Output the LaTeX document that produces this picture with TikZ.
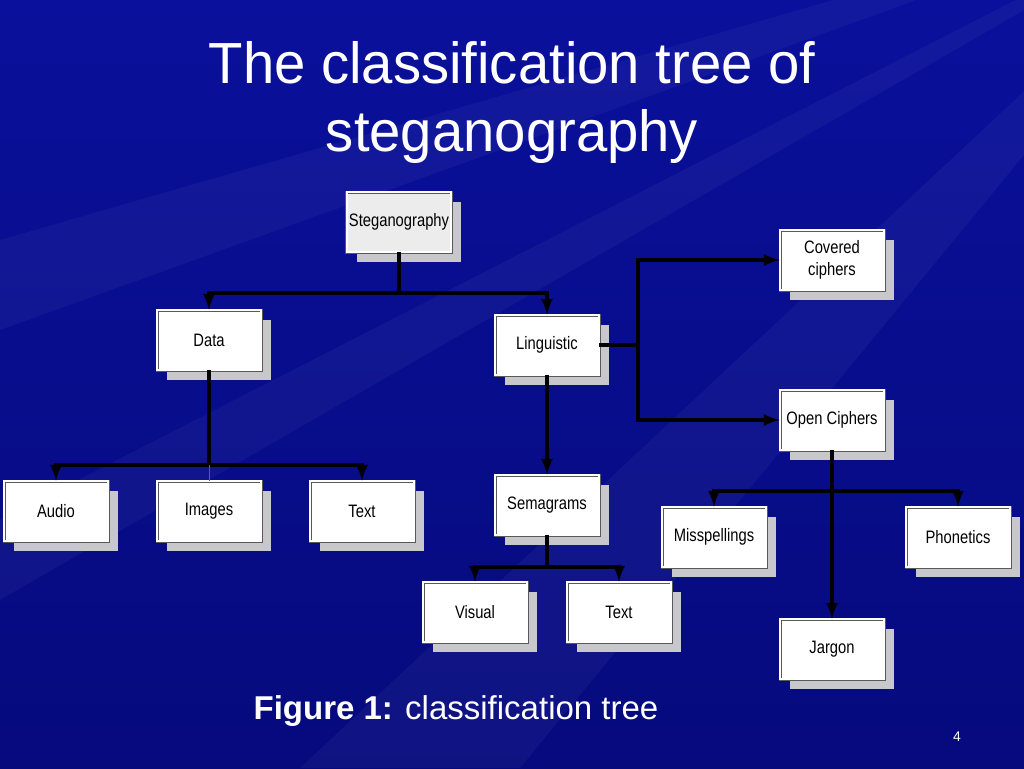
\documentclass[tikz,border=0pt]{standalone}
\usepackage{xcolor}
\usepackage{fontspec}
\setmainfont{Liberation Sans}
\newfontfamily\boxfont[FakeStretch=0.82]{Liberation Sans}
\newfontfamily\titlefont[FakeStretch=0.97]{Liberation Sans}
\usetikzlibrary{shapes,arrows,shadows}
\definecolor{slideblue}{RGB}{10,16,155}
\definecolor{slidedark}{RGB}{6,10,125}
\definecolor{boxshade}{RGB}{200,200,204}
\definecolor{rootfill}{RGB}{236,236,236}
\begin{document}
\begin{tikzpicture}[x=0.5pt,y=-0.5pt]
\tikzstyle{box}=[draw=black!65, double=white, double distance=0.6pt, line width=0.45pt, fill=white, minimum width=52pt, minimum height=30pt, inner sep=1pt, align=center, font=\boxfont\fontsize{9}{11}\selectfont, drop shadow={shadow xshift=5pt, shadow yshift=-5pt, fill=boxshade, opacity=1}]
\tikzstyle{link}=[line width=1.7pt, -latex]
\tikzstyle{bus}=[line width=1.7pt]
\tikzstyle{ray}=[fill=white, opacity=0.04]
% background
\path[use as bounding box, top color=slideblue, bottom color=slidedark] (0,0) rectangle (1024,768);
\path[ray] (1250,-120) -- (0,240) -- (0,330) -- cycle;
\path[ray] (1250,-120) -- (300,768) -- (520,768) -- cycle;
\path[ray] (1250,-120) -- (1024,560) -- (1024,700) -- cycle;
\path[ray] (1250,-120) -- (640,0) -- (760,0) -- cycle;
\path[ray] (1250,-120) -- (0,520) -- (0,600) -- cycle;
% title and caption
\node[white, align=center, font=\titlefont\fontsize{29}{34}\selectfont] (title) at (512,102) {The classification tree of\\steganography};
\node[white, font=\fontsize{16.5}{19}\selectfont] (caption) at (456,711) {\textbf{Figure 1:} classification tree};
\node[white, font=\fontsize{7}{8}\selectfont] (pagenum) at (957,737) {4};
% tree
\node[box, fill=rootfill] (steg) at (399,222) {Steganography};
\node[box] (data) at (209,340) {Data};
\node[box] (ling) at (547,345) {Linguistic};
\node[box] (cov) at (832,260) {Covered\\ciphers};
\node[box] (open) at (832,420) {Open Ciphers};
\node[box] (audio) at (56,511) {Audio};
\node[box] (images) at (209,511) {Images};
\node[box] (text1) at (362,511) {Text};
\node[box] (sem) at (547,505) {Semagrams};
\node[box] (visual) at (475,612) {Visual};
\node[box] (text2) at (619,612) {Text};
\node[box] (missp) at (714,537) {Misspellings};
\node[box] (phon) at (958,537) {Phonetics};
\node[box] (jarg) at (832,649) {Jargon};
\coordinate (sbus) at (399,293);
\coordinate (dbus) at (209,465);
\coordinate (lbus) at (638,345);
\coordinate (mbus) at (547,567);
\coordinate (obus) at (832,491);
\draw[bus] (steg.south) -- (sbus);
\draw[link] (sbus) -| (data.north);
\draw[link] (sbus) -| (ling.north);
\draw[bus] (data.south) -- (dbus);
\draw[link] (dbus) -| (audio.north);
\draw[link] (dbus) -| (text1.north);
\draw[thin, blue!30!gray] (dbus) -- (images.north);
\draw[bus] (ling.east) -- (lbus);
\draw[link] (lbus) |- (cov.west);
\draw[link] (lbus) |- (open.west);
\draw[link] (ling.south) -- (sem.north);
\draw[bus] (sem.south) -- (mbus);
\draw[link] (mbus) -| (visual.north);
\draw[link] (mbus) -| (text2.north);
\draw[link] (open.south) -- (jarg.north);
\draw[link] (obus) -| (missp.north);
\draw[link] (obus) -| (phon.north);
\end{tikzpicture}
\end{document}
